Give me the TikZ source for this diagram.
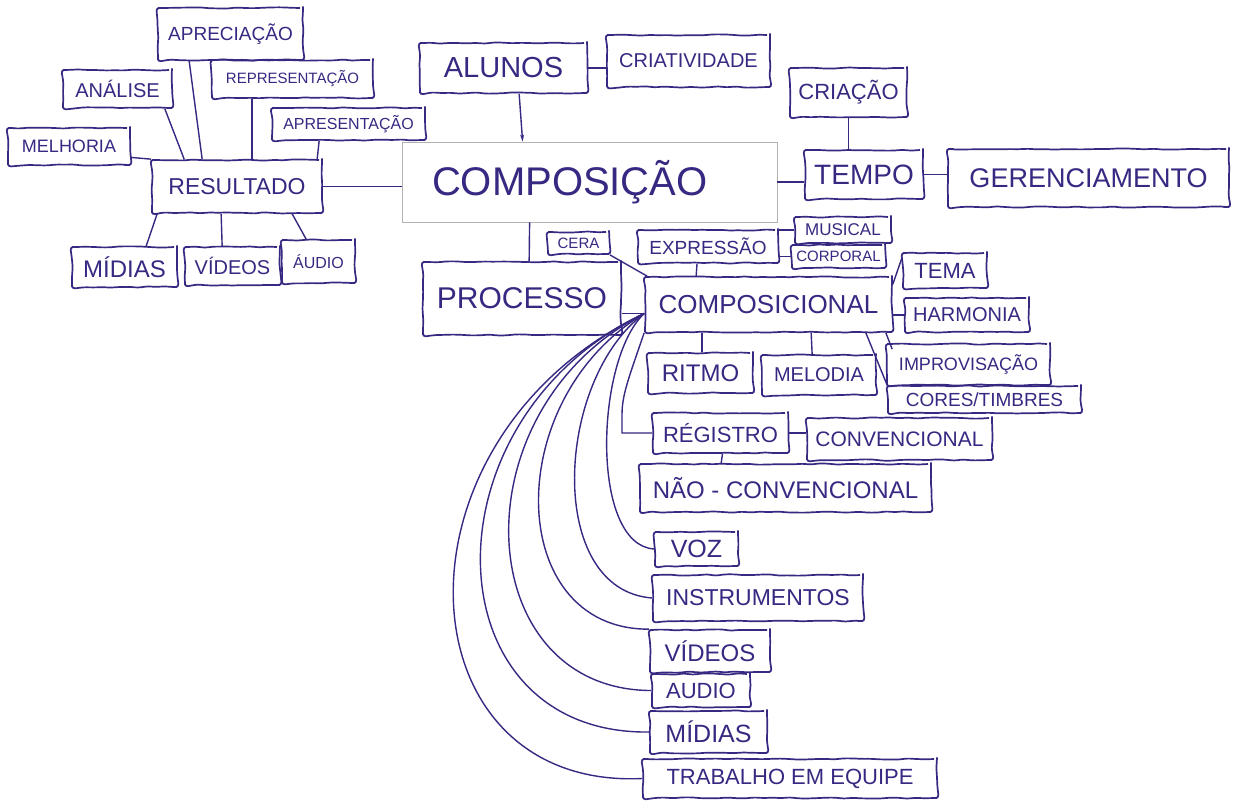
\documentclass[tikz,border=0pt]{standalone}
\usepackage{fontspec}
\setmainfont{Liberation Sans}
\usetikzlibrary{decorations.pathmorphing,arrows.meta}
\definecolor{ink}{RGB}{55,40,130}
\newcommand{\fs}[1]{\fontsize{#1}{#1}\selectfont}

\begin{document}
\begin{tikzpicture}[
    x=1pt,
    y=-1pt,
    every node/.style={
      draw=ink,
      text=ink,
      line width=1.7pt,
      rounded corners=3pt,
      inner sep=0pt,
      decorate,
      decoration={random steps, segment length=9pt, amplitude=0.7pt}
    },
    box/.style n args={3}{minimum width=#1pt, minimum height=#2pt, font=\fs{#3}},
    link/.style={draw=ink, line width=1.4pt}
  ]
    \path[use as bounding box, fill=white] (0,0) rectangle (1234,804);

    \node[box={145}{52}{19}] (apreciacao) at (230.5,34) {APRECIAÇÃO};
    \node[box={109}{38}{20}] (analise) at (117.5,89) {ANÁLISE};
    \node[box={161}{38}{15}] (representacao) at (292.5,79) {REPRESENTAÇÃO};
    \node[box={153}{32}{16}] (apresentacao) at (348.5,124) {APRESENTAÇÃO};
    \node[box={122}{37}{18}] (melhoria) at (69,146.5) {MELHORIA};
    \node[box={170}{53}{23}] (resultado) at (237,186.5) {RESULTADO};
    \node[box={105}{40}{24}] (midias1) at (124.5,267) {MÍDIAS};
    \node[box={95}{38}{20}] (videos1) at (232.5,266) {VÍDEOS};
    \node[box={73}{43}{16}] (audio1) at (318.5,261.5) {ÁUDIO};

    \node[box={375}{80}{40}, draw=gray!60, line width=0.8pt, decorate=false,
      sharp corners, text width=315pt, inner xsep=30pt, align=left]
      (composicao) at (589.5,182) {COMPOSIÇÃO};
    \node[box={167}{50}{29}] (alunos) at (503.5,68) {ALUNOS};
    \node[box={163}{52}{20}] (criatividade) at (688.5,61) {CRIATIVIDADE};
    \node[box={117}{49}{22}] (criacao) at (848.5,92.5) {CRIAÇÃO};
    \node[box={118}{49}{28}] (tempo) at (864,174.5) {TEMPO};
    \node[box={281}{58}{27}] (gerenciamento) at (1088.5,178) {GERENCIAMENTO};

    \node[box={198}{73}{30}] (processo) at (522,298.5) {PROCESSO};
    \node[box={61}{22}{15}] (cera) at (578.5,243) {CERA};
    \node[box={140}{33}{19}] (expressao) at (708,246.5) {EXPRESSÃO};
    \node[box={96}{26}{17}] (musical) at (843,230) {MUSICAL};
    \node[box={93}{23}{15}] (corporal) at (838.5,256.5) {CORPORAL};
    \node[box={247}{55}{26}] (composicional) at (768.5,304.5) {COMPOSICIONAL};
    \node[box={84}{35}{22}] (tema) at (945,270.5) {TEMA};
    \node[box={124}{34}{20}] (harmonia) at (967,315) {HARMONIA};
    \node[box={163}{41}{18}] (improvisacao) at (968.5,364.5) {IMPROVISAÇÃO};
    \node[box={193}{27}{19}] (cores) at (984.5,399.5) {CORES/TIMBRES};
    \node[box={105}{40}{24}] (ritmo) at (700.5,373) {RITMO};
    \node[box={114}{40}{20}] (melodia) at (819,375) {MELODIA};
    \node[box={135}{40}{22}] (registro) at (720.5,433) {RÉGISTRO};
    \node[box={185}{42}{21}] (convencional) at (899.5,439) {CONVENCIONAL};
    \node[box={291}{48}{24}] (naoconv) at (785.5,488) {NÃO - CONVENCIONAL};
    \node[box={83}{34}{25}] (voz) at (696.5,549) {VOZ};
    \node[box={210}{46}{23}] (instrumentos) at (758,598) {INSTRUMENTOS};
    \node[box={120}{42}{24}] (videos2) at (710,651) {VÍDEOS};
    \node[box={98}{33}{22}] (audio2) at (701,690.5) {AUDIO};
    \node[box={117}{42}{25}] (midias2) at (708.5,732) {MÍDIAS};
    \node[box={294}{39}{22}] (trabalho) at (790,778.5) {TRABALHO EM EQUIPE};

    \coordinate (hub) at ([yshift=-9pt]composicional.west);

    \draw[link] (melhoria.-10) to (resultado.north west);
    \draw[link] ([xshift=-8pt]analise.south east) to ([xshift=33pt]resultado.north west);
    \draw[link] ([xshift=32pt]apreciacao.south west) to ([xshift=51pt]resultado.north west);
    \draw[link] ([xshift=41pt]representacao.south west) to ([xshift=101pt]resultado.north west);
    \draw[link] ([xshift=48pt]apresentacao.south west) to ([xshift=166pt]resultado.north west);
    \draw[link] ([xshift=6pt]resultado.south west) to ([xshift=75pt]midias1.north west);
    \draw[link] ([xshift=70pt]resultado.south west) to ([xshift=38pt]videos1.north west);
    \draw[link] ([xshift=141pt]resultado.south west) to ([xshift=25pt]audio1.north west);
    \draw[link] (resultado.east) to (resultado.east -| composicao.west);

    \draw[link] (alunos.east) to (alunos.east -| criatividade.west);
    \draw[link, -{Stealth[length=7pt, width=4pt]}] ([xshift=100pt]alunos.south west)
      to ([xshift=121pt]composicao.north west);
    \draw[link] (criacao.south) to (criacao.south |- tempo.north);
    \draw[link] (composicao.east) to (composicao.east -| tempo.west);
    \draw[link] (tempo.east) to (tempo.east -| gerenciamento.west);
    \draw[link] ([xshift=128pt]composicao.south west) to ([xshift=107pt]processo.north west);

    \draw[link] (cera.south east) to ([xshift=3pt]composicional.north west);
    \draw[link] (musical.west) to (musical.west -| expressao.east);
    \draw[link] (corporal.west) to (corporal.west -| expressao.east);
    \draw[link] ([xshift=-11pt]expressao.south) to ([xshift=52pt]composicional.north west);
    \draw[link] (processo.east |- hub) to (hub);
    \draw[link] ([yshift=-8pt]composicional.north east) to ([yshift=-5pt]tema.north west);
    \draw[link] (harmonia.west) to (harmonia.west -| composicional.east);
    \draw[link] ([xshift=-7pt]composicional.south east) to ([xshift=6pt,yshift=-6pt]improvisacao.north west);
    \draw[link] ([xshift=-27pt]composicional.south east) to (cores.north west);
    \draw[link] ([xshift=58pt]composicional.south west) to ([xshift=55pt]ritmo.north west);
    \draw[link] ([xshift=167pt]composicional.south west) to ([xshift=51pt]melodia.north west);
    \draw[link] (registro.east) to (registro.east -| convencional.west);
    \draw[link] ([xshift=2pt]registro.south) to ([xshift=82pt]naoconv.north west);

    \draw[link] (composicional.south west) .. controls (628,380) and (622,395) .. (622,415) |- (registro.west);
    \draw[link] (hub) .. controls (595,360) and (590,545) .. (voz.west);
    \draw[link] (hub) .. controls (555,380) and (545,590) .. (instrumentos.west);
    \draw[link] (hub) .. controls (500,400) and (505,630) .. (videos2.north west);
    \draw[link] (hub) .. controls (455,410) and (470,690) .. (audio2.west);
    \draw[link] (hub) .. controls (420,420) and (430,735) .. (midias2.west);
    \draw[link] (hub) .. controls (380,440) and (400,790) .. (trabalho.west);
  \end{tikzpicture}
\end{document}
